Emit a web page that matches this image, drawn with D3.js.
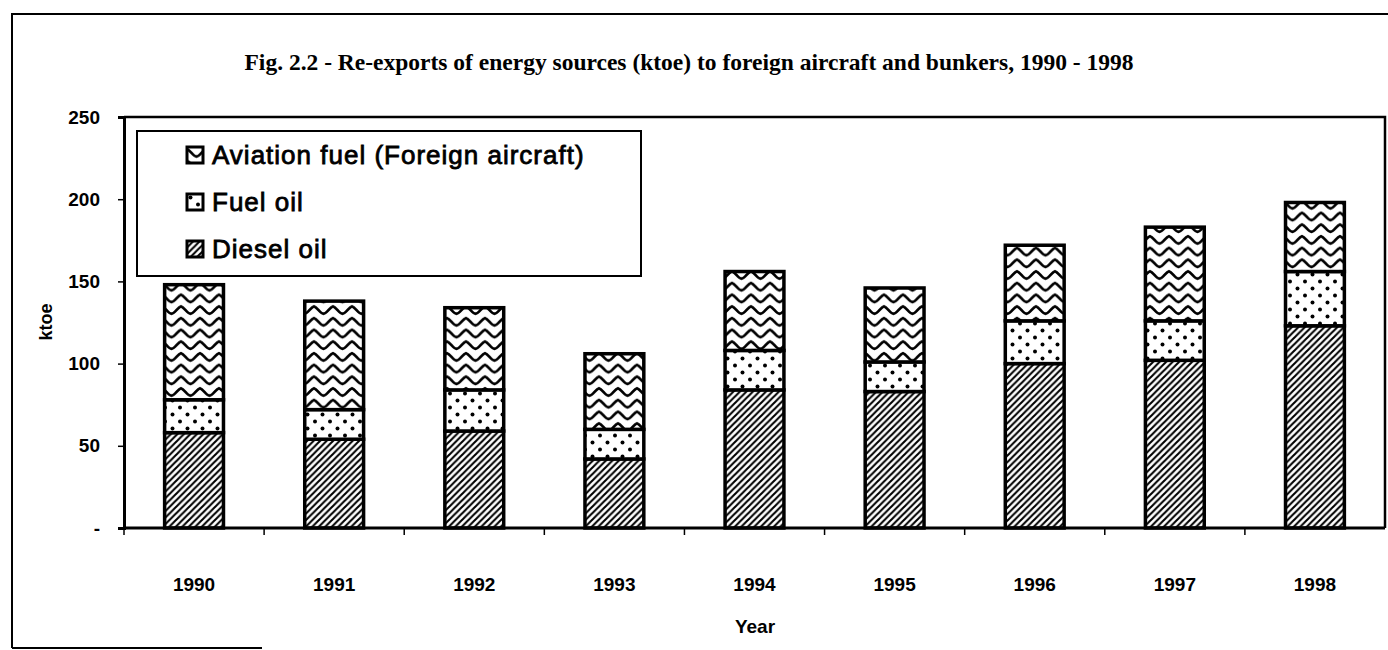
<!DOCTYPE html>
<html>
<head>
<meta charset="utf-8">
<script src="https://cdn.jsdelivr.net/npm/d3@7"></script>
<style>
  body { margin: 0; background: #fff; }
  text { font-family: Arial, "Liberation Sans", sans-serif; fill: #000; }
</style>
</head>
<body>
<svg id="mainsvg" width="1388" height="650"></svg>
<script>
// data
const years = ['1990','1991','1992','1993','1994','1995','1996','1997','1998'];
const dieselOil = [58, 54, 59, 42, 84, 83, 100, 102, 123];
const fuelOil = [20, 18, 25, 18, 24, 18, 26, 24, 33];
const aviationFuel = [70, 66, 50, 46, 48, 45, 46, 57, 42];
const seriesNames = ['Diesel oil', 'Fuel oil', 'Aviation fuel (Foreign aircraft)'];
const yTicks = [0, 50, 100, 150, 200, 250];

var svg = d3.select("#mainsvg"),
    margin = {top: 117, right: 3, bottom: 122, left: 124},
    width = svg.attr("width") - margin.left - margin.right,
    height = svg.attr("height") - margin.top - margin.bottom;

// patterns
var defs = svg.append('defs');

var pDiag = defs.append('pattern')
    .attr('id', 'diag')
    .attr('patternUnits', 'userSpaceOnUse')
    .attr('width', 6.5).attr('height', 6.5);
pDiag.append('rect').attr('width', 6.5).attr('height', 6.5).attr('fill', '#fff');
pDiag.append('path')
    .attr('d', 'M-1,7.5 L7.5,-1 M-1,1 L1,-1 M5.5,7.5 L7.5,5.5')
    .attr('stroke', '#000').attr('stroke-width', 2.1);

var pDots = defs.append('pattern')
    .attr('id', 'dots')
    .attr('patternUnits', 'userSpaceOnUse')
    .attr('width', 15).attr('height', 14);
pDots.append('rect').attr('width', 15).attr('height', 14).attr('fill', '#fff');
pDots.append('circle').attr('cx', 3.5).attr('cy', 3.5).attr('r', 2).attr('fill', '#000');
pDots.append('circle').attr('cx', 11).attr('cy', 10.5).attr('r', 2).attr('fill', '#000');

var pWave = defs.append('pattern')
    .attr('id', 'wave')
    .attr('patternUnits', 'userSpaceOnUse')
    .attr('width', 19).attr('height', 11.7);
pWave.append('rect').attr('width', 19).attr('height', 11.7).attr('fill', '#fff');
pWave.append('path')
    .attr('d', 'M-1,2 C3,2 6,9.5 9.5,9.5 C13,9.5 16,2 20,2')
    .attr('fill', 'none')
    .attr('stroke', '#000').attr('stroke-width', 2.8);

const fills = ['url(#diag)', 'url(#dots)', 'url(#wave)'];

// outer frame of the figure
svg.append('path')
    .attr('d', 'M12,648 L12,14 L1395,14 M12,648 L262,648')
    .attr('fill', 'none')
    .attr('stroke', '#000')
    .attr('stroke-width', 2);

svg.append('text')
    .attr('x', 689)
    .attr('y', 70)
    .attr('text-anchor', 'middle')
    .style('font-family', '"Liberation Serif", "Times New Roman", serif')
    .style('font-weight', 'bold')
    .style('font-size', '23.5px')
    .text('Fig. 2.2 - Re-exports of energy sources (ktoe) to foreign aircraft and bunkers, 1990 - 1998');

var g = svg.append("g")
    .attr('transform', 'translate(' + margin.left + ',' + margin.top + ')');

// scales
var xScale = d3.scaleBand()
    .domain(years)
    .range([0, width])
    .paddingInner(0.58)
    .paddingOuter(0.29);

var yScale = d3.scaleLinear()
    .domain([0, 250])
    .range([height, 0]);

var table = years.map((y, i) => ({year: y, diesel: dieselOil[i], fuel: fuelOil[i], aviation: aviationFuel[i]}));
var stack = d3.stack().keys(['diesel', 'fuel', 'aviation'])(table);

// plot frame (top and right)
g.append('path')
    .attr('d', 'M0,0 L' + width + ',0 L' + width + ',' + height)
    .attr('fill', 'none')
    .attr('stroke', '#000')
    .attr('stroke-width', 2.5);

// bars
var layers = g.append('g').selectAll('g')
    .data(stack)
    .enter()
    .append('g')
    .attr('fill', (d, i) => fills[i]);

layers.selectAll('rect')
    .data(d => d)
    .enter()
    .append('rect')
    .attr('x', d => xScale(d.data.year))
    .attr('y', d => yScale(d[1]))
    .attr('width', xScale.bandwidth())
    .attr('height', d => yScale(d[0]) - yScale(d[1]))
    .attr('stroke', '#000')
    .attr('stroke-width', 3.5);

// y axis
var yAxis = g.append('g')
    .call(d3.axisLeft(yScale)
        .tickValues(yTicks)
        .tickSize(6)
        .tickPadding(18)
        .tickFormat(d => d === 0 ? '-' : d));
yAxis.select('.domain').attr('stroke-width', 3);
yAxis.selectAll('.tick line').attr('stroke-width', 1.5);
yAxis.selectAll('text')
    .style('font-size', '19px')
    .style('font-weight', 'bold');

// x axis with ticks between categories
g.append('line')
    .attr('x1', 0).attr('x2', width)
    .attr('y1', height).attr('y2', height)
    .attr('stroke', '#000')
    .attr('stroke-width', 3);

g.append('g').selectAll('line')
    .data(years)
    .enter()
    .append('line')
    .attr('x1', (d, i) => i * xScale.step())
    .attr('x2', (d, i) => i * xScale.step())
    .attr('y1', height)
    .attr('y2', height + 7)
    .attr('stroke', '#000')
    .attr('stroke-width', 1.5);

g.append('g').selectAll('text')
    .data(years)
    .enter()
    .append('text')
    .attr('x', d => xScale(d) + xScale.bandwidth() / 2)
    .attr('y', height + 63)
    .attr('text-anchor', 'middle')
    .style('font-size', '19px')
    .style('font-weight', 'bold')
    .text(d => d);

svg.append('text')
    .attr('x', 755)
    .attr('y', 633)
    .attr('text-anchor', 'middle')
    .style('font-size', '19px')
    .style('font-weight', 'bold')
    .text('Year');

svg.append('text')
    .attr('transform', 'translate(52,' + 322 + ') rotate(-90)')
    .attr('text-anchor', 'middle')
    .style('font-size', '18px')
    .style('font-weight', 'bold')
    .text('ktoe');

// legend
var legend = svg.append('g')
    .attr('transform', 'translate(137,131)');

legend.append('rect')
    .attr('width', 504)
    .attr('height', 145)
    .attr('fill', '#fff')
    .attr('stroke', '#000')
    .attr('stroke-width', 2);

var legendItems = legend.selectAll('.item')
    .data([2, 1, 0])
    .enter()
    .append('g')
    .attr('class', 'item')
    .attr('transform', (d, i) => 'translate(50,' + (16 + i * 47) + ')');

legendItems.append('rect')
    .attr('width', 16)
    .attr('height', 16)
    .attr('fill', d => fills[d])
    .attr('stroke', '#000')
    .attr('stroke-width', 3);

legendItems.append('text')
    .attr('x', 25)
    .attr('y', 17)
    .style('font-size', '26px')
    .style('letter-spacing', '1px')
    .style('stroke', '#000')
    .style('stroke-width', 0.8)
    .text(d => seriesNames[d]);
</script>
</body>
</html>
